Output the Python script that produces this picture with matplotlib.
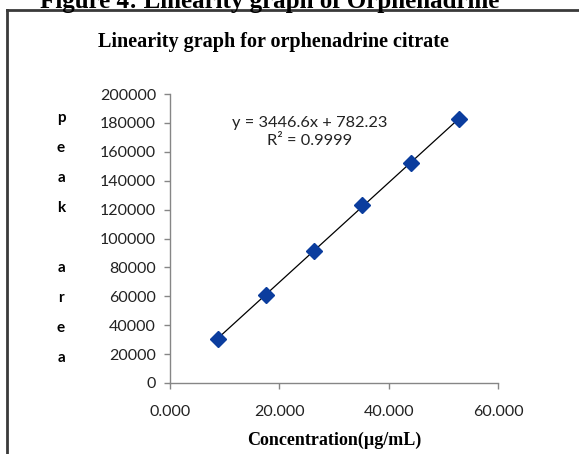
"""Linearity graph for orphenadrine citrate (peak area vs concentration)."""
import matplotlib
matplotlib.use("Agg")
import matplotlib.pyplot as plt
import numpy as np
from matplotlib.lines import Line2D
from matplotlib.ticker import FormatStrFormatter

# ── data ────────────────────────────────────────────────────────────────────
concentration = [8.8, 17.6, 26.4, 35.2, 44.0, 52.8]          # µg/mL
peak_area = [30600, 60800, 91500, 123000, 152200, 182500]
slope, intercept = 3446.6, 782.23
r_squared = 0.9999

x_ticks = [0, 20, 40, 60]
y_ticks = list(range(0, 200001, 20000))

# ── styling ─────────────────────────────────────────────────────────────────
TICK_FONT = "Lato"
SERIF = "Liberation Serif"
MARKER_BLUE = "#0b3d9e"
AXIS_GRAY = "#868686"

fig = plt.figure(figsize=(5.79, 4.54), dpi=100)
W, H = 579, 454
ax = fig.add_axes([170 / W, 1 - 383 / H, (498 - 170) / W, (383 - 94) / H])

# trendline across the data range
xs = np.array([concentration[0], concentration[-1]])
ax.plot(xs, slope * xs + intercept, color="black", lw=0.9, zorder=2)
ax.plot(concentration, peak_area, ls="none", marker="D", ms=8,
        color=MARKER_BLUE, mec=MARKER_BLUE, zorder=3)

ax.set_xlim(x_ticks[0], x_ticks[-1])
ax.set_ylim(y_ticks[0], y_ticks[-1])
ax.set_xticks(x_ticks)
ax.set_yticks(y_ticks)
ax.xaxis.set_major_formatter(FormatStrFormatter("%.3f"))
ax.yaxis.set_major_formatter(FormatStrFormatter("%d"))

for side in ("top", "right"):
    ax.spines[side].set_visible(False)
for side in ("left", "bottom"):
    ax.spines[side].set_color(AXIS_GRAY)
    ax.spines[side].set_linewidth(1.0)
ax.tick_params(direction="out", length=4, width=1.0, color=AXIS_GRAY,
               labelsize=11.5, labelcolor="#222222")
ax.tick_params(axis="y", pad=6)
ax.tick_params(axis="x", pad=12)
for lab in ax.get_xticklabels() + ax.get_yticklabels():
    lab.set_fontfamily(TICK_FONT)

ax.text(25.6, 173700, f"y = {slope}x + {intercept}\nR² = {r_squared}",
        ha="center", va="center", fontsize=11.8, family=TICK_FONT,
        color="#222222", linespacing=1.3)

# titles and labels
fig.text(273 / W, 1 - 42 / H, "Linearity graph for orphenadrine citrate",
         ha="center", va="center", fontsize=14.5, fontweight="bold", family=SERIF)
fig.text(334 / W, 1 - 440 / H, "Concentration(µg/mL)",
         ha="center", va="center", fontsize=13, fontweight="bold", family=SERIF)
fig.text(61 / W, 1 - 238 / H, "p\ne\na\nk\n\na\nr\ne\na",
         ha="center", va="center", fontsize=11, fontweight="bold",
         family=TICK_FONT, linespacing=2.45)

# caption above the frame (cropped in the source)
fig.text(270 / W, 1 - 8 / H, "Figure 4: Linearity graph of Orphenadrine",
         ha="center", va="baseline", fontsize=18, fontweight="bold", family=SERIF)

# outer frame
frame_kw = dict(color="#3a3a3a", lw=2, transform=fig.transFigure)
fig.add_artist(Line2D([7 / W, 1.01], [1 - 10 / H, 1 - 10 / H], **frame_kw))
fig.add_artist(Line2D([7 / W, 7 / W], [1 - 10 / H, -0.01], **frame_kw))

fig.savefig("out.png", dpi=100)
